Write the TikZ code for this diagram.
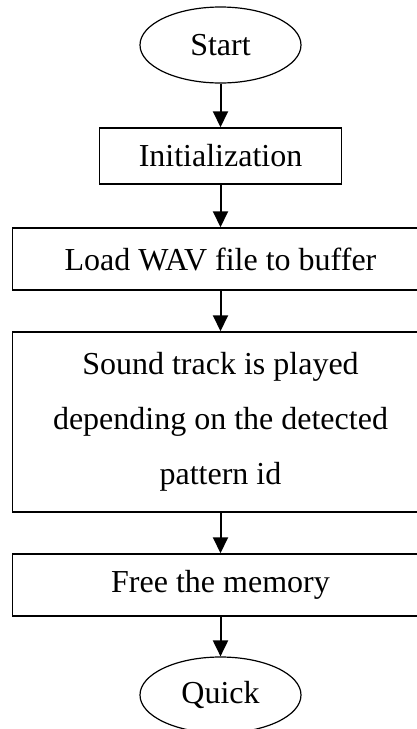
\documentclass[tikz,border=0pt]{standalone}
\usepackage{fontspec}
\setmainfont{Liberation Serif}
\usetikzlibrary{shapes.geometric,arrows.meta}

\tikzset{
  stepbox/.style={draw, line width=1.5pt, rectangle, inner sep=0pt,
    minimum width=#1, align=center, font=\fontsize{32}{55}\selectfont},
  terminal/.style={draw, line width=1.2pt, ellipse, inner sep=0pt,
    minimum width=161pt, minimum height=76pt, font=\fontsize{32}{38}\selectfont},
  flow/.style={line width=2pt, -{Triangle[length=16pt,width=15pt]}}
}

\begin{document}
\begin{tikzpicture}[x=1pt,y=-1pt]
  \useasboundingbox (0,0) rectangle (417,729);

  \node[terminal] (start) at (220.5,45) {Start};
  \node[stepbox=242pt, minimum height=56pt] (init) at (220.5,156) {Initialization};
  \node[stepbox=416.5pt, minimum height=62pt] (load) at (220.5,259) {Load WAV file to buffer};
  \node[stepbox=416.5pt, minimum height=180pt] (play) at (220.5,422)
    {Sound track is played\\depending on the detected\\pattern id};
  \node[stepbox=416.5pt, minimum height=62pt] (free) at (220.5,585) {Free the memory};
  \node[terminal] (quit) at (220.5,695) {Quick};

  \draw[flow] (start) -- (init);
  \draw[flow] (init) -- (load);
  \draw[flow] (load) -- (play);
  \draw[flow] (play) -- (free);
  \draw[flow] (free) -- (quit);
\end{tikzpicture}
\end{document}
